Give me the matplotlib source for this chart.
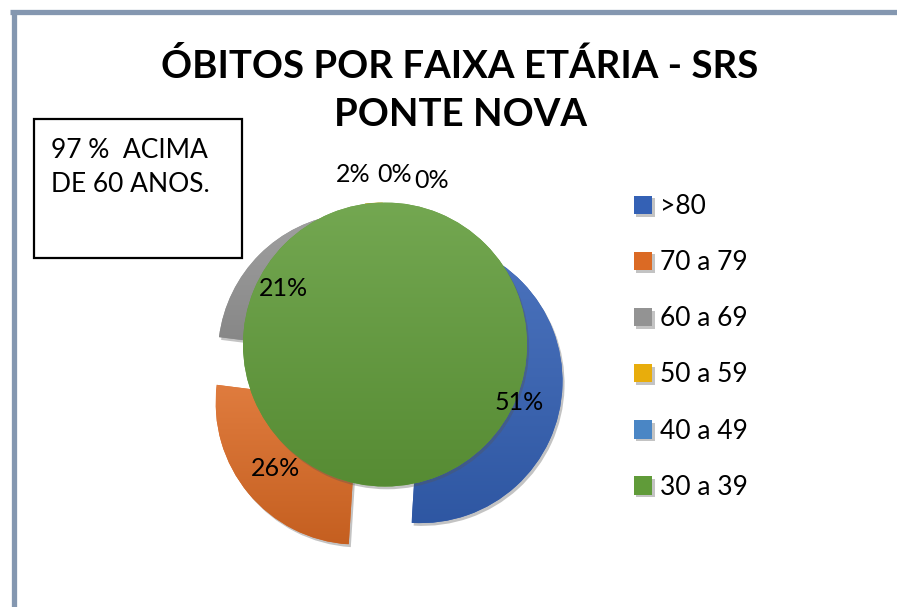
import matplotlib
matplotlib.use("Agg")
import matplotlib.pyplot as plt
import matplotlib.patheffects as pe
import numpy as np
from matplotlib.colors import to_rgb
from matplotlib.patches import Rectangle
from matplotlib.lines import Line2D

plt.rcParams['font.family'] = ['Lato', 'DejaVu Sans']

# dados do gráfico
faixas = ['>80', '70 a 79', '60 a 69', '50 a 59', '40 a 49', '30 a 39']
percentuais = [51, 26, 21, 2, 0, 0]
cores = ['#3461b5', '#db6a24', '#939393', '#e8ad0c', '#4a86c5', '#609b39']
titulo = 'ÓBITOS POR FAIXA ETÁRIA - SRS\nPONTE NOVA'
nota = '97 %  ACIMA\nDE 60 ANOS.'

W, H = 897, 607
fig = plt.figure(figsize=(W / 100, H / 100), dpi=100)
ax = fig.add_axes([0, 0, 1, 1])

sombra = [pe.SimplePatchShadow(offset=(1.5, -2), shadow_rgbFace='#555555', alpha=0.35), pe.Normal()]

raio = 142
# no pie o explode e somado direto ao centro (unidades de dados)
wedges, _, autotexts = ax.pie(
    percentuais, colors=cores, startangle=-90, counterclock=True,
    explode=[0.25 * raio] * len(percentuais), radius=raio, center=(385, 380),
    autopct=lambda p: f'{p:.0f}%', textprops=dict(fontsize=18, color='black'),
    wedgeprops=dict(linewidth=0), frame=True)

# a fatia de 0% do fim aparece como circulo inteiro (como no original)
ultimo = wedges[-1]
ultimo.set_theta1(ultimo.theta2 - 360)

# degrade vertical em cada fatia (mais claro em cima)
for i, w in enumerate(wedges):
    z = 1 + i * 0.2
    w.set_zorder(z)
    w.set_path_effects(sombra)
    ext = w.get_path().get_extents()
    if ext.width <= 0 or ext.height <= 0:
        continue
    base = np.array(to_rgb(w.get_facecolor()))
    topo = base + (1 - base) * 0.12
    fundo = base * 0.9
    t = np.linspace(0, 1, 64)[:, None, None]
    grad = topo * (1 - t) + fundo * t
    im = ax.imshow(grad, extent=(ext.x0, ext.x1, ext.y1, ext.y0), aspect='auto',
                   interpolation='bilinear', zorder=z + 0.1)
    im.set_clip_path(w)

ax.set_xlim(0, W)
ax.set_ylim(H, 0)  # coordenadas em pixels, y para baixo
ax.axis('off')

# moldura (so topo e esquerda aparecem)
ax.add_line(Line2D([10, W], [12, 12], color='#8497b0', lw=3.8, solid_capstyle='butt'))
ax.add_line(Line2D([14, 14], [10, H], color='#8497b0', lw=3.8, solid_capstyle='butt'))

pos_rotulos = [(519, 403), (275, 468), (283, 288), (353, 174), (395, 174), (432, 180)]
for t, p in zip(autotexts, pos_rotulos):
    t.set_position(p)
    t.set_zorder(5)

ax.text(460, 90, titulo, ha='center', va='center', fontsize=27.6, fontweight='bold',
        linespacing=1.47)

ax.add_patch(Rectangle((34, 119), 208, 139, fill=False, ec='black', lw=1.6))
ax.text(51, 167, nota, ha='left', va='center', fontsize=19, linespacing=1.45)

ax.legend(wedges, faixas, loc='upper left', bbox_to_anchor=(634, 194),
          bbox_transform=ax.transData, frameon=False, fontsize=19,
          handlelength=0.7, handleheight=0.7, handletextpad=0.3,
          labelspacing=1.18, borderpad=0, borderaxespad=0)

fig.savefig('out.png', dpi=100)
